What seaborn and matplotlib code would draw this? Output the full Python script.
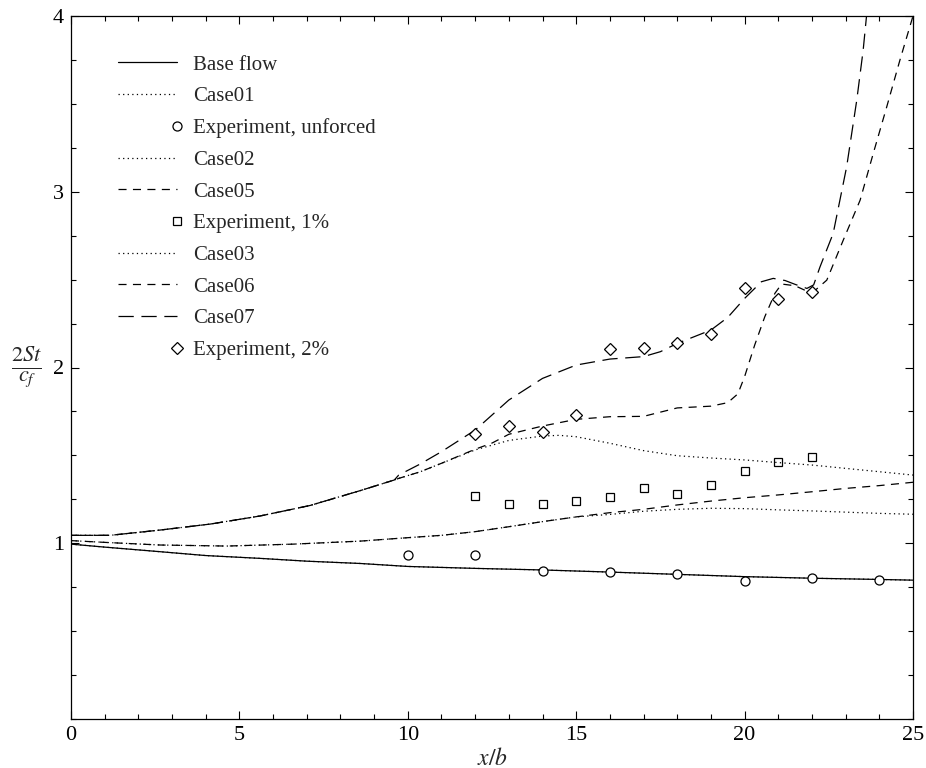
import numpy as np
import pandas as pd
import matplotlib
matplotlib.use("Agg")
import matplotlib.pyplot as plt
import seaborn as sns
from matplotlib.legend_handler import HandlerLine2DCompound
from matplotlib.ticker import MultipleLocator, FixedLocator

# ---------------- data ----------------
base_x = [0, 1, 2.64, 4, 5.61, 7, 8.58, 10, 12, 14, 16, 18, 20, 22, 24, 25]
base_y = [0.995, 0.978, 0.952, 0.93, 0.914, 0.898, 0.885, 0.868, 0.857, 0.848,
          0.836, 0.823, 0.81, 0.801, 0.794, 0.79]

case01_x = base_x
case01_y = base_y

lower_x = [0, 1, 2.64, 4.62, 6.6, 8.58, 9.73, 11, 12, 13, 14, 15]
lower_y = [1.015, 1.005, 0.99, 0.984, 0.995, 1.012, 1.028, 1.045, 1.066, 1.094, 1.123, 1.15]

case02_x = lower_x + [16, 17, 18, 19, 20, 21, 22, 23, 24, 25]
case02_y = lower_y + [1.164, 1.182, 1.193, 1.199, 1.197, 1.190, 1.184, 1.177, 1.170, 1.165]

case05_x = lower_x + [16, 17, 18, 19, 20, 21, 22, 23, 24, 25]
case05_y = lower_y + [1.174, 1.193, 1.218, 1.240, 1.259, 1.275, 1.293, 1.312, 1.328, 1.347]

upper_x = [0, 1.16, 2.64, 4.13, 5.61, 7.1, 8.58, 9.6]
upper_y = [1.045, 1.045, 1.075, 1.109, 1.155, 1.215, 1.299, 1.36]

case03_x = upper_x + [9.73, 10.36, 11, 12, 13, 14, 14.5, 15, 16, 17, 18, 19, 20, 21, 22, 23, 24, 25]
case03_y = upper_y + [1.369, 1.406, 1.455, 1.531, 1.585, 1.61, 1.614, 1.606, 1.569, 1.527,
                      1.498, 1.485, 1.474, 1.459, 1.445, 1.426, 1.407, 1.388]

case06_x = upper_x + [9.73, 10.36, 11, 12, 12.5, 13, 14, 15, 16, 17, 18, 19, 19.5, 19.8, 20,
                      20.3, 20.6, 20.9, 21.1, 21.5, 21.9, 22.1, 22.44, 22.93, 23.43, 23.82,
                      24.22, 24.61, 25]
case06_y = upper_y + [1.369, 1.406, 1.455, 1.535, 1.57, 1.62, 1.667, 1.705, 1.72, 1.722, 1.77,
                      1.78, 1.80, 1.85, 1.948, 2.128, 2.289, 2.422, 2.475, 2.465, 2.43, 2.44,
                      2.497, 2.725, 2.952, 3.218, 3.483, 3.748, 4.0]

case07_x = upper_x + [9.73, 10.36, 11, 12, 13, 14, 15, 16, 17, 17.5, 18, 19, 19.5, 20, 20.5,
                      20.85, 21.2, 21.5, 21.85, 22.05, 22.24, 22.63, 23.03, 23.33, 23.52, 23.62]
case07_y = upper_y + [1.388, 1.45, 1.521, 1.644, 1.815, 1.938, 2.014, 2.048, 2.062, 2.09, 2.137,
                      2.213, 2.285, 2.393, 2.488, 2.507, 2.495, 2.473, 2.45, 2.47, 2.573, 2.763,
                      3.142, 3.521, 3.805, 4.0]

exp0_x = [10, 12, 14, 16, 18, 20, 22, 24]
exp0_y = [0.933, 0.933, 0.842, 0.835, 0.825, 0.783, 0.804, 0.793]

exp1_x = [12, 13, 14, 15, 16, 17, 18, 19, 20, 21, 22]
exp1_y = [1.271, 1.221, 1.221, 1.242, 1.263, 1.312, 1.282, 1.331, 1.413, 1.460, 1.489]

exp2_x = [12, 13, 14, 15, 16, 17, 18, 19, 20, 21, 22]
exp2_y = [1.622, 1.669, 1.631, 1.732, 2.103, 2.111, 2.139, 2.189, 2.450, 2.388, 2.430]

x_ticks = [0, 5, 10, 15, 20, 25]
y_ticks = [1, 2, 3, 4]

# ---------------- style ----------------
sns.set_theme(style="ticks")
plt.rcParams["font.family"] = ["Liberation Serif", "DejaVu Serif"]
plt.rcParams["mathtext.fontset"] = "stix"
plt.rcParams["lines.scale_dashes"] = False

fig = plt.figure(figsize=(9.26, 7.68), dpi=100)
ax = fig.add_axes([71 / 926, 1 - 719 / 768, 842 / 926, 703 / 768])

LW = 0.9
DOT = (0, (0.9, 2.4))
DASH = (0, (5.8, 4.6))
LDASH = (0, (11, 5.5))

series = [
    ("Base flow", base_x, base_y, dict(linestyle="-")),
    ("Case01", case01_x, case01_y, dict(linestyle=DOT)),
    ("Experiment, unforced", exp0_x, exp0_y, dict(linestyle="none", marker="o", markersize=6.5)),
    ("Case02", case02_x, case02_y, dict(linestyle=DOT)),
    ("Case05", case05_x, case05_y, dict(linestyle=DASH)),
    ("Experiment, 1%", exp1_x, exp1_y, dict(linestyle="none", marker="s", markersize=5.6)),
    ("Case03", case03_x, case03_y, dict(linestyle=DOT)),
    ("Case06", case06_x, case06_y, dict(linestyle=DASH)),
    ("Case07", case07_x, case07_y, dict(linestyle=LDASH)),
    ("Experiment, 2%", exp2_x, exp2_y, dict(linestyle="none", marker="D", markersize=6.2)),
]

handles = []
for name, xs, ys, kw in series:
    df = pd.DataFrame({"x": xs, "y": ys})
    n_before = len(ax.lines)
    extra = {}
    if "marker" in kw:
        extra = dict(markerfacecolor="white", markeredgecolor="black", markeredgewidth=0.9)
    sns.lineplot(data=df, x="x", y="y", ax=ax, color="black", linewidth=LW,
                 sort=False, estimator=None, legend=False, **kw, **extra)
    line = ax.lines[n_before]
    line.set_label(name)
    handles.append(line)


class RightMarkerHandler(HandlerLine2DCompound):
    def get_xdata(self, legend, xdescent, ydescent, width, height, fontsize):
        xdata, _ = super().get_xdata(legend, xdescent, ydescent, width, height, fontsize)
        return xdata, np.array([-xdescent + width])


leg = ax.legend(handles=handles, labels=[h.get_label() for h in handles],
                loc="upper left", bbox_to_anchor=((118 - 71) / 842, (719 - 55) / 703),
                frameon=False, fontsize=15, handlelength=2.85, handletextpad=0.75,
                labelspacing=0.58, borderpad=0, borderaxespad=0,
                handler_map={h: RightMarkerHandler(numpoints=1) for h in handles})

# ---------------- axes ----------------
ax.set_xlim(0, 25)
ax.set_ylim(0, 4)
ax.xaxis.set_major_locator(FixedLocator(x_ticks))
ax.xaxis.set_minor_locator(MultipleLocator(1))
ax.yaxis.set_major_locator(FixedLocator(y_ticks))
ax.yaxis.set_minor_locator(MultipleLocator(0.25))
ax.set_xticklabels([str(t) for t in x_ticks])
ax.set_yticklabels([str(t) for t in y_ticks])
ax.tick_params(which="both", direction="in", top=True, right=True, colors="black",
               labelsize=16, width=0.8)
ax.tick_params(which="major", length=6, pad=5)
ax.tick_params(which="minor", length=3.5)
for s in ax.spines.values():
    s.set_linewidth(0.9)
    s.set_color("black")
ax.set_facecolor("white")
ax.grid(False)

ax.set_xlabel(r"$x/b$", fontsize=17, labelpad=2)
ax.set_ylabel(r"$\frac{2St}{c_f}$", fontsize=23, rotation=0, va="center", ha="center")
ax.yaxis.set_label_coords(-0.053, 0.5)

fig.savefig("out.png", dpi=100, facecolor="white")
